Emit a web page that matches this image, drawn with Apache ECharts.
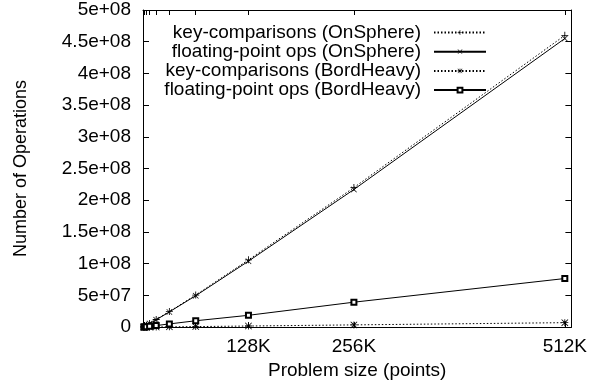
<!DOCTYPE html>
<html>
<head>
<meta charset="utf-8">
<script src="https://cdn.jsdelivr.net/npm/echarts@6/dist/echarts.min.js"></script>
<style>html,body{margin:0;padding:0;background:#fff}#c{width:590px;height:385px}</style>
</head>
<body>
<div id="c"></div>
<script>
// Problem sizes in K points
const sizesK = [1, 2, 4, 8, 16, 32, 64, 128, 256, 512];
const kcOnSphere = [0.62e6, 1.35e6, 2.8e6, 5.8e6, 1.2e7, 2.45e7, 5.05e7, 1.06e8, 2.2e8, 4.6e8];
const fpOnSphere = [0.6e6, 1.3e6, 2.7e6, 5.6e6, 1.15e7, 2.4e7, 4.95e7, 1.04e8, 2.17e8, 4.55e8];
const kcBordHeavy = [0.01e6, 0.02e6, 0.05e6, 0.1e6, 0.2e6, 0.4e6, 0.8e6, 1.7e6, 3.5e6, 7.0e6];
const fpBordHeavy = [0.14e6, 0.3e6, 0.6e6, 1.2e6, 2.4e6, 5.0e6, 1.0e7, 1.86e7, 3.93e7, 7.66e7];
const seriesNames = ['key-comparisons (OnSphere)', 'floating-point ops (OnSphere)', 'key-comparisons (BordHeavy)', 'floating-point ops (BordHeavy)'];
const xTickValues = [1, 2, 4, 8, 16, 32, 64, 128, 256, 512];
const xLabelValues = [128, 256, 512];

const FONT = 'Liberation Sans';
const plusPath = 'path://M4.4,0H5.6V4.4H10V5.6H5.6V10H4.4V5.6H0V4.4H4.4Z';
const crossPath = 'path://M0,0.8L0.8,0L5,4.2L9.2,0L10,0.8L5.8,5L10,9.2L9.2,10L5,5.8L0.8,10L0,9.2L4.2,5Z';
const starPath = plusPath + ' M0,0.8L0.8,0L5,4.2L9.2,0L10,0.8L5.8,5L10,9.2L9.2,10L5,5.8L0.8,10L0,9.2L4.2,5Z';

function gp(v) {
  if (v === 0) return '0';
  const e = Math.floor(Math.log10(v) + 1e-9);
  const m = Math.round(v / Math.pow(10, e) * 100) / 100;
  return m + 'e+' + String(e).padStart(2, '0');
}
function pts(arr) { return sizesK.map((x, i) => [x, arr[i]]); }

const chart = echarts.init(document.getElementById('c'));
const mk = (name, arr, sym, size, dashed) => ({
  name, type: 'line', data: pts(arr), symbol: sym, symbolSize: size,
  showSymbol: true, animation: false,
  lineStyle: { color: '#000', width: 1, type: dashed ? [1.5, 2] : 'solid' },
  itemStyle: { color: '#000', borderColor: '#000', borderWidth: sym === 'emptyRect' ? 1 : 0 },
  emphasis: { disabled: true }, z: 3
});
chart.setOption({
  backgroundColor: '#fff',
  animation: false,
  grid: { left: 143, right: 18, top: 10, bottom: 53, show: false },
  legend: {
    orient: 'vertical', align: 'right', right: 98, top: 18,
    itemWidth: 52, itemHeight: 6, itemGap: 0.2,
    textStyle: { fontFamily: FONT, fontSize: 19, lineHeight: 19, color: '#000', padding: [0, 8, 0, 0] },
    selectedMode: false,
    data: seriesNames
  },
  xAxis: [{
    type: 'value', min: 0, max: 520, position: 'bottom',
    name: 'Problem size (points)', nameLocation: 'middle', nameGap: 28,
    nameTextStyle: { fontFamily: FONT, fontSize: 19, color: '#000' },
    axisLine: { show: true, onZero: false, lineStyle: { color: '#000', width: 1 } },
    axisTick: { show: true, inside: true, length: 5, customValues: xTickValues, lineStyle: { color: '#000' } },
    axisLabel: { show: true, customValues: xLabelValues, formatter: v => v + 'K', margin: 10, fontFamily: FONT, fontSize: 19, color: '#000' },
    splitLine: { show: false }
  }, {
    type: 'value', min: 0, max: 520, position: 'top',
    axisLine: { show: true, onZero: false, lineStyle: { color: '#000', width: 1 } },
    axisTick: { show: true, inside: true, length: 5, customValues: xTickValues, lineStyle: { color: '#000' } },
    axisLabel: { show: false }, splitLine: { show: false }
  }],
  yAxis: [{
    type: 'value', min: 0, max: 5e8, interval: 5e7, position: 'left',
    name: 'Number of Operations', nameLocation: 'middle', nameGap: 113, nameRotate: 90,
    nameTextStyle: { fontFamily: FONT, fontSize: 18, color: '#000' },
    axisLine: { show: true, onZero: false, lineStyle: { color: '#000', width: 1 } },
    axisTick: { show: true, inside: true, length: 6, lineStyle: { color: '#000' } },
    axisLabel: { formatter: gp, margin: 12, fontFamily: FONT, fontSize: 19, color: '#000' },
    splitLine: { show: false }
  }, {
    type: 'value', min: 0, max: 5e8, interval: 5e7, position: 'right',
    axisLine: { show: true, onZero: false, lineStyle: { color: '#000', width: 1 } },
    axisTick: { show: true, inside: true, length: 6, lineStyle: { color: '#000' } },
    axisLabel: { show: false }, splitLine: { show: false }
  }],
  series: [
    mk(seriesNames[0], kcOnSphere, plusPath, 7, true),
    mk(seriesNames[1], fpOnSphere, crossPath, 6, false),
    mk(seriesNames[2], kcBordHeavy, starPath, 7, true),
    mk(seriesNames[3], fpBordHeavy, 'emptyRect', 5, false)
  ]
});
</script>
</body>
</html>
